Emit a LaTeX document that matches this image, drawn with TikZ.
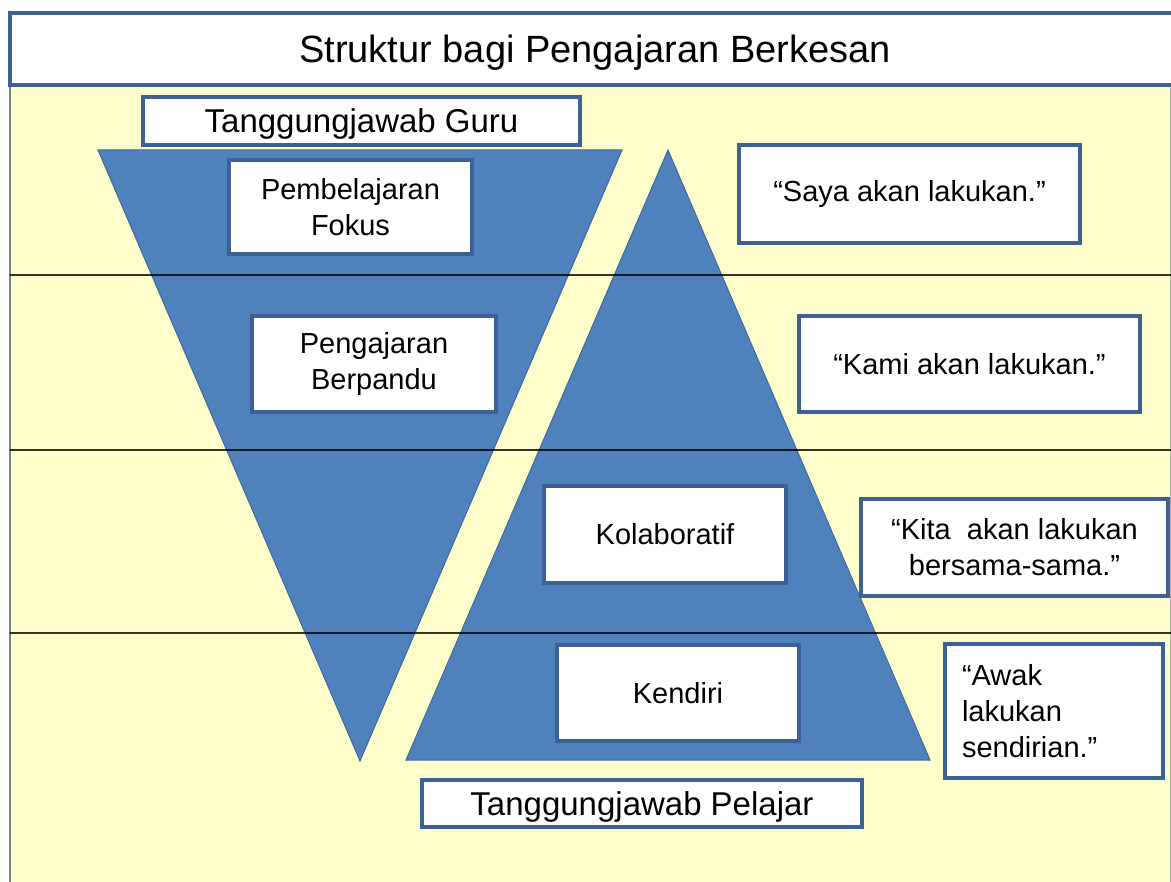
\documentclass[tikz,border=0pt]{standalone}
\usepackage{fontspec}
\setmainfont{Liberation Sans}
\definecolor{bgyellow}{HTML}{FFFFCC}
\definecolor{triblue}{HTML}{4F81BD}
\definecolor{triedge}{HTML}{3F6A9C}
\definecolor{boxedge}{HTML}{3C6192}
\begin{document}
\begin{tikzpicture}[x=1pt,y=-1pt,
  box/.style={draw=boxedge, line width=3.2pt, fill=white, inner sep=0pt, align=center,
    font=\fontsize{29}{36}\selectfont},
  labelbox/.style={box, text depth=0pt, font=\fontsize{33}{40}\selectfont},
  tri/.style={fill=triblue, draw=triedge, line width=1pt},
  band/.style={draw=black, line width=2pt, opacity=0.8}]
\useasboundingbox (0,0) rectangle (1171,882);
\fill[white] (0,0) rectangle (1171,882);
\fill[bgyellow] (10,85) rectangle (1171,882);
\draw[gray, line width=2pt] (10,85) -- (10,882);
\draw[gray!60, line width=1pt] (1170,85) -- (1170,882);
% title
\node[draw=boxedge, line width=3.2pt, fill=white, inner sep=0pt, text depth=0pt,
  minimum width=1170pt, minimum height=72pt,
  font=\fontsize{38}{44}\selectfont] (title) at (595,49) {Struktur bagi Pengajaran Berkesan};
% triangles
\coordinate (a1) at (98,150); \coordinate (a2) at (622,150); \coordinate (a3) at (360,761);
\coordinate (b1) at (668,150); \coordinate (b2) at (406,760); \coordinate (b3) at (930,760);
\path[tri] (a1) -- (a2) -- (a3) -- cycle;
\path[tri] (b1) -- (b2) -- (b3) -- cycle;
% band lines
\coordinate (l1a) at (10,275); \coordinate (l1b) at (1171,275);
\coordinate (l2a) at (10,450); \coordinate (l2b) at (1171,450);
\coordinate (l3a) at (10,633); \coordinate (l3b) at (1171,633);
\draw[band] (l1a) -- (l1b);
\draw[band] (l2a) -- (l2b);
\draw[band] (l3a) -- (l3b);
% boxes
\node[labelbox, minimum width=437pt, minimum height=48pt] (guru) at (361.5,121) {Tanggungjawab Guru};
\node[labelbox, minimum width=440pt, minimum height=47pt] (pelajar) at (642,803.5) {Tanggungjawab Pelajar};
\node[box, minimum width=243pt, minimum height=94pt] (fokus) at (350.5,207) {Pembelajaran\\Fokus};
\node[box, minimum width=244pt, minimum height=96pt] (berpandu) at (374,364) {Pengajaran\\Berpandu};
\node[box, minimum width=242pt, minimum height=97pt] (kolab) at (665,534.5) {Kolaboratif};
\node[box, minimum width=242pt, minimum height=96pt] (kendiri) at (678,693) {Kendiri};
\node[box, minimum width=341pt, minimum height=98pt] (saya) at (909.5,194) {“Saya akan lakukan.”};
\node[box, minimum width=341pt, minimum height=96pt] (kami) at (969.5,364) {“Kami akan lakukan.”};
\node[box, minimum width=307pt, minimum height=97pt] (kita) at (1014.5,547.5) {“Kita~ akan lakukan\\bersama-sama.”};
\node[box, align=left, inner xsep=17pt, text width=184pt, minimum height=134pt] (awak) at (1054,711) {“Awak\\lakukan\\sendirian.”};
\end{tikzpicture}
\end{document}
